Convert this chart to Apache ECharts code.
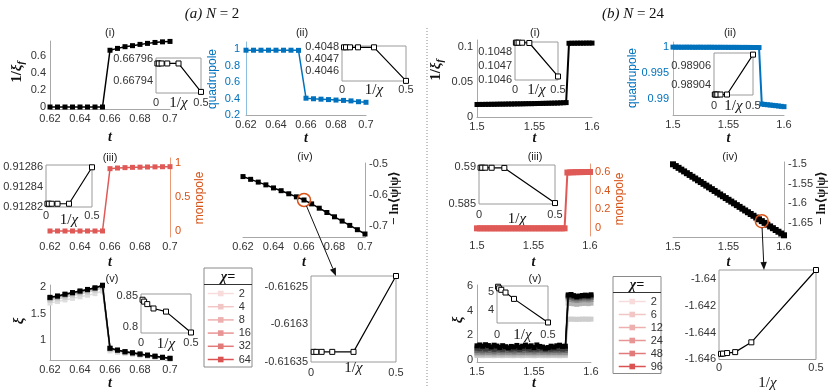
<!DOCTYPE html>
<html><head><meta charset="utf-8">
<script src="https://cdn.jsdelivr.net/npm/echarts@6/dist/echarts.min.js"></script>
<style>html,body{margin:0;padding:0;background:#fff}#c{width:831px;height:392px}</style>
</head><body><div id="c"></div><script>
// ---------------- DATA ----------------
const tA = [0.62,0.625,0.63,0.635,0.64,0.645,0.65,0.655,0.66,0.665,0.67,0.675,0.68,0.685,0.69,0.695,0.7];
const tB = [1.5,1.5025,1.505,1.5075,1.51,1.5125,1.515,1.5175,1.52,1.5225,1.525,1.5275,1.53,1.5325,1.535,1.5375,1.54,1.5425,1.545,1.5475,1.55,1.5525,1.555,1.5575,1.56,1.5625,1.565,1.5675,1.57,1.5725,1.575,1.5775,1.58,1.5825,1.585,1.5875,1.59,1.5925,1.595,1.5975,1.6];
const chiA = ['2','4','8','16','32','64'];
const chiB = ['2','6','12','24','48','96'];
const invChiA = [1/64,1/32,1/16,1/8,1/4,1/2];
const invChiB = [1/96,1/48,1/24,1/12,1/6,1/2];

// tick labels
const tickTA = [0.62,0.64,0.66,0.68,0.7];
const tickTB = [1.5,1.55,1.6];
const tickInvChi = [0,0.5];
const aYt1 = [0,0.2,0.4,0.6], aYt2 = [0.2,0.4,0.6,0.8,1], aYt3 = [0,0.5,1], aYt4 = [-0.7,-0.6,-0.5], aYt5 = [1,1.5,2];
const bYt1 = [0,0.05,0.1], bYt2 = [0.99,0.995,1], bYt3 = [0,0.2,0.4,0.6], bYt4 = [-1.65,-1.6,-1.55,-1.5], bYt5 = [0,2,4,6];
const aInYt1 = [0.66794,0.66796], aInYt2 = [0.4046,0.4047,0.4048], aInYt3 = [0.91282,0.91284,0.91286], aInYt4 = [-0.61635,-0.6163,-0.61625], aInYt5 = [0.8,0.85];
const bInYt1 = [0.1046,0.1047,0.1048], bInYt2 = [0.98904,0.98906], bInYt3 = [0.585,0.59], bInYt4 = [-1.646,-1.644,-1.642,-1.64], bInYt5 = [4,5];

// (a) N=2 main series (chi=64)
const aInvXiF = [0,0,0,0,0,0,0,0,0.668,0.69,0.71,0.722,0.737,0.749,0.76,0.767,0.772];
const aQuad   = [0.99,0.99,0.99,0.99,0.99,0.99,0.99,0.988,0.4048,0.398,0.393,0.388,0.382,0.378,0.372,0.362,0.355];
const aMono   = [0,0,0,0,0,0,0,0,0.9129,0.922,0.928,0.932,0.935,0.937,0.939,0.941,0.942];
const aLnPsi  = [-0.540,-0.549,-0.558,-0.567,-0.577,-0.586,-0.596,-0.606,-0.6163,-0.629,-0.643,-0.657,-0.671,-0.685,-0.699,-0.713,-0.727];
const aXi2  = [1.70,1.73,1.76,1.79,1.82,1.85,1.88,1.93,0.792,0.765,0.742,0.722,0.702,0.684,0.666,0.648,0.632];
const aXi4  = [1.75,1.78,1.81,1.845,1.875,1.905,1.94,1.99,0.825,0.792,0.764,0.744,0.722,0.703,0.684,0.664,0.646];
const aXi8  = [1.78,1.805,1.84,1.87,1.90,1.93,1.965,2.015,0.830,0.798,0.769,0.749,0.726,0.706,0.687,0.667,0.648];
const aXi16 = [1.795,1.82,1.855,1.885,1.915,1.945,1.98,2.03,0.837,0.803,0.773,0.753,0.729,0.709,0.689,0.669,0.650];
const aXi32 = [1.805,1.83,1.865,1.895,1.925,1.955,1.985,2.035,0.841,0.806,0.776,0.755,0.731,0.711,0.691,0.670,0.651];
const aXi64 = [1.81,1.835,1.87,1.90,1.93,1.96,1.99,2.04,0.844,0.808,0.778,0.757,0.733,0.712,0.692,0.671,0.652];
// (a) insets vs 1/chi
const aInvXiFIn = [0.667956,0.667956,0.667956,0.667956,0.667956,0.66793];
const aQuadIn   = [0.4048,0.4048,0.4048,0.4048,0.4048,0.40452];
const aMonoIn   = [0.912823,0.912823,0.912823,0.912823,0.912823,0.91286];
const aLnPsiIn  = [-0.616337,-0.616337,-0.616337,-0.616337,-0.616337,-0.616236];
const aXiIn     = [0.844,0.841,0.837,0.830,0.825,0.7915];

// (b) N=24 main series (chi=96)
const bInvXiF = [0.0178,0.0179,0.0179,0.0180,0.0180,0.0181,0.0181,0.0182,0.0183,0.0183,0.0184,0.0185,0.0185,0.0186,0.0187,0.0187,0.0188,0.0189,0.0190,0.0190,0.0191,0.0192,0.0193,0.0194,0.0195,0.0196,0.0197,0.0198,0.0199,0.0201,0.0203,0.0205,0.1049,0.1050,0.1050,0.1051,0.1051,0.1051,0.1052,0.1052,0.1052];
const bQuad = [0.99992,0.99991,0.99991,0.9999,0.9999,0.99991,0.9999,0.9999,0.99989,0.9999,0.9999,0.99989,0.99989,0.9999,0.99989,0.99989,0.99988,0.99989,0.99988,0.99988,0.99988,0.99987,0.99988,0.99987,0.99987,0.99986,0.99987,0.99986,0.99986,0.99985,0.99985,0.99984,0.98906,0.98899,0.98893,0.98887,0.98881,0.98875,0.98869,0.98862,0.98856];
const bMono = [0,0,0,0,0,0,0,0,0,0,0,0,0,0,0,0,0,0,0,0,0,0,0,0,0,0,0,0,0,0,0,0,0.5899,0.5914,0.5924,0.5933,0.594,0.5946,0.5951,0.5955,0.5958];
const bLnPsi = [-1.5,-1.5046,-1.5091,-1.5137,-1.5182,-1.5228,-1.5273,-1.5319,-1.5364,-1.541,-1.5455,-1.5501,-1.5546,-1.5592,-1.5637,-1.5683,-1.5728,-1.5774,-1.5819,-1.5865,-1.591,-1.5956,-1.6001,-1.6047,-1.6092,-1.6138,-1.6183,-1.6229,-1.6274,-1.632,-1.6365,-1.6411,-1.6457,-1.6502,-1.6547,-1.6593,-1.6638,-1.6684,-1.6729,-1.6775,-1.682];
const bXi2  = [0.36,0.37,0.35,0.37,0.36,0.36,0.35,0.37,0.36,0.35,0.37,0.36,0.36,0.35,0.37,0.36,0.35,0.37,0.36,0.36,0.35,0.36,0.37,0.35,0.36,0.35,0.37,0.36,0.36,0.35,0.36,0.36,3.3,3.31,3.3,3.29,3.3,3.31,3.31,3.3,3.31];
const bXi6  = [0.5,0.52,0.48,0.53,0.5,0.51,0.47,0.52,0.5,0.48,0.53,0.5,0.51,0.48,0.52,0.5,0.49,0.53,0.5,0.51,0.48,0.5,0.52,0.49,0.5,0.48,0.52,0.5,0.51,0.49,0.51,0.5,4.6,4.58,4.55,4.51,4.55,4.58,4.6,4.56,4.6];
const bXi12 = [0.63,0.65,0.6,0.66,0.62,0.64,0.59,0.65,0.62,0.6,0.66,0.62,0.64,0.6,0.65,0.62,0.61,0.66,0.62,0.64,0.6,0.63,0.65,0.61,0.63,0.6,0.65,0.62,0.64,0.61,0.64,0.62,4.95,4.9,4.85,4.81,4.85,4.88,4.9,4.86,4.9];
const bXi24 = [0.78,0.8,0.74,0.82,0.76,0.79,0.72,0.8,0.77,0.74,0.81,0.76,0.78,0.73,0.8,0.77,0.75,0.82,0.76,0.79,0.73,0.78,0.8,0.75,0.77,0.74,0.8,0.76,0.78,0.75,0.79,0.77,5.1,5.06,4.99,4.95,5.0,5.03,5.05,5.01,5.06];
const bXi48 = [0.96,0.91,1.0,0.89,0.93,0.98,0.86,0.95,0.9,0.87,0.97,0.92,0.88,0.95,0.9,0.86,0.93,0.98,0.9,0.87,0.94,0.88,0.95,0.91,0.86,0.92,0.88,0.95,0.9,0.93,0.88,0.92,5.18,5.21,5.12,5.06,5.1,5.13,5.16,5.12,5.18];
const bXi96 = [1.15,1.22,1.12,1.24,1.17,1.06,1.2,1.13,1.02,1.16,1.08,0.99,1.1,1.06,1.18,1.03,1.12,1.21,1.08,1.15,1.01,1.22,1.1,1.05,0.96,1.01,1.12,1.05,1.15,1.2,1.1,1.12,5.27,5.3,5.21,5.13,5.18,5.22,5.25,5.2,5.28];
// (b) insets vs 1/chi
const bInvXiFIn = [0.104863,0.104863,0.104863,0.104863,0.104861,0.104624];
const bQuadIn   = [0.98903,0.98903,0.98903,0.98903,0.98903,0.989072];
const bMonoIn   = [0.58993,0.58993,0.58993,0.58992,0.5899,0.5851];
const bLnPsiIn  = [-1.64559,-1.64557,-1.64553,-1.64546,-1.64473,-1.63934];
const bXiIn     = [5.27,5.18,5.1,4.95,4.6,3.3];

// ---------------- STYLE / BUILD ----------------
const SANS = '"Liberation Sans", Arial, Helvetica, sans-serif';
const SERIF = '"Liberation Serif", "DejaVu Serif", serif';
const C = {ink:'#333', axis:'#a8a8a8', blue:'#0072BD', orange:'#D95319', red:'#df5a57', black:'#000'};
const pink = ['#f8dcdc','#f3c6c6','#eeafaf','#e89595','#e27a7a','#db5252'];
const greyA = ['#dedede','#cfcfcf','#bdbdbd','#9c9c9c','#666666','#000000'];
const greyB = ['#cdcdcd','#b3b3b3','#8f8f8f','#6a6a6a','#3c3c3c','#000000'];

function fmt(v){ return String(+(+v).toPrecision(8)); }
const grid=[], xAxis=[], yAxis=[], series=[];
const MID = {align:'center', verticalAlign:'middle'};
const tStyle = Object.assign({fontFamily:SERIF, fontStyle:'italic', fontWeight:'bold', fontSize:14, color:'#111'}, MID);
const chiStyle = Object.assign({fontFamily:SERIF, fontSize:15, color:'#111', rich:{g:{fontFamily:SERIF, fontStyle:'italic', fontSize:15, color:'#111'}}}, MID);

function panel(o){
  const i = grid.length, inset = !!o.inset;
  grid.push({left:o.box[0], top:o.box[1], width:o.box[2], height:o.box[3], show:inset,
    borderColor:'#9a9a9a', borderWidth:1, backgroundColor: inset ? '#fff' : 'transparent'});
  xAxis.push({gridIndex:i, type:'value', min:o.x[0], max:o.x[1], position:'bottom',
    axisLine:{show:!inset && o.xLine!==false, onZero:false, lineStyle:{color:C.axis, width:1}},
    axisTick:{show:false}, splitLine:{show:false},
    axisLabel:{customValues:o.xt, formatter:fmt, fontSize:11, fontFamily:SANS, color:C.ink, margin:o.xm},
    name: inset ? '1/{g|χ}' : 't', nameLocation:'middle', nameGap:o.xg, nameMoveOverlap:false,
    nameTextStyle: inset ? chiStyle : tStyle});
  yAxis.push({gridIndex:i, type:'value', min:o.y[0], max:o.y[1], position:o.right?'right':'left',
    axisLine:{show:!inset && o.yLine!==false, onZero:false, lineStyle:{color:o.yc||C.axis, width:1}},
    axisTick:{show:false}, splitLine:{show:false},
    axisLabel:{customValues:o.yt, formatter:fmt, fontSize:11, fontFamily:SANS, color:o.ylc||C.ink, margin:o.ym!=null?o.ym:4}});
  return i;
}
function line(gi, xs, ys, o){
  series.push({type:'line', name:o.name||('s'+series.length), xAxisIndex:gi, yAxisIndex:gi,
    data: xs.map((x,k)=>[x, ys[k]]), symbol:'rect', symbolSize:o.ss||5, showSymbol:true, clip:false,
    lineStyle:{color:o.c, width:o.w||1.5}, itemStyle:{color:o.fill||o.c, borderColor:o.c, borderWidth:o.bw||0},
    emphasis:{disabled:true}, silent:true, animation:false, z:o.z||2, markPoint:o.mp});
}
function insetLine(gi, xs, ys){ line(gi, xs, ys, {c:'#000', fill:'#fff', bw:1, w:1.2, ss:5, z:6}); }
const circleMP = (x,y)=>({symbol:'circle', symbolSize:13, silent:true, animation:false,
  itemStyle:{color:'rgba(0,0,0,0)', borderColor:C.orange, borderWidth:1.5}, label:{show:false},
  data:[{coord:[x,y]}]});

// ---- (a) panels
const gAi  = panel({box:[50,41,120,68], x:[0.62,0.7], y:[-0.0235,0.777], xt:tickTA, yt:aYt1, xm:4, xg:28});
const gAii = panel({box:[246,42,120,73], x:[0.62,0.7], y:[0.2,1.09], xt:tickTA, yt:aYt2, xm:4, xg:23, yc:'#8fbde0', ylc:C.blue, ym:6});
const gAiii= panel({box:[50,158,120,79], x:[0.62,0.7], y:[-0.088,1.069], xt:tickTA, yt:aYt3, xm:4, xg:25, xLine:false, right:true, yc:'#ec9a78', ylc:C.orange, ym:5});
const gAiv = panel({box:[243,163,122,74], x:[0.62,0.7], y:[-0.7368,-0.4958], xt:tickTA, yt:aYt4, xm:4, xg:25, right:true, ym:4});
const gAv  = panel({box:[50,285,120,75], x:[0.62,0.7], y:[0.62,2.044], xt:tickTA, yt:aYt5, xm:4, xg:23});
const gAiI = panel({inset:true, box:[156,58,45,35], x:[0,0.5], y:[0.667929,0.667961], xt:tickInvChi, yt:aInYt1, xm:4, xg:10, ym:3});
const gAiiI= panel({inset:true, box:[342,46,64,35], x:[0,0.5], y:[0.404519,0.404811], xt:tickInvChi, yt:aInYt2, xm:3, xg:9, ym:3});
const gAiiiI=panel({inset:true, box:[46,165,46,42], x:[0,0.5], y:[0.9128197,0.9128623], xt:tickInvChi, yt:aInYt3, xm:3, xg:13, ym:3});
const gAivI= panel({inset:true, box:[311,276,85,86], x:[0,0.5], y:[-0.6163505,-0.616236], xt:tickInvChi, yt:aInYt4, xm:5, xg:6, ym:3});
const gAvI = panel({inset:true, box:[141,294,50,39], x:[0,0.5], y:[0.7907,0.8532], xt:tickInvChi, yt:aInYt5, xm:4, xg:11, ym:3});
// ---- (b) panels
const gBi  = panel({box:[477,40,115,77], x:[1.5,1.6], y:[0,0.1096], xt:tickTB, yt:bYt1, xm:4, xg:21});
const gBii = panel({box:[673,42,111,73], x:[1.5,1.6], y:[0.98697,1.0009], xt:tickTB, yt:bYt2, xm:4, xg:23, yc:'#8fbde0', ylc:C.blue});
const gBiii= panel({box:[477,164,113,72], x:[1.5,1.6], y:[-0.081,0.68], xt:tickTB, yt:bYt3, xm:4, xg:26, xLine:false, right:true, yc:'#ec9a78', ylc:C.orange, ym:5});
const gBiv = panel({box:[673,162,111,75], x:[1.5,1.6], y:[-1.6864,-1.4941], xt:tickTB, yt:bYt4, xm:4, xg:25, right:true, ym:4});
const gBv  = panel({box:[477,285,114,77], x:[1.5,1.6], y:[-0.16,6.07], xt:tickTB, yt:bYt5, xm:4, xg:21});
const gBiI = panel({inset:true, box:[515,42,43,38], x:[0,0.5], y:[0.104599,0.104868], xt:tickInvChi, yt:bInYt1, xm:4, xg:10, ym:3});
const gBiiI= panel({inset:true, box:[714,53,39,42], x:[0,0.5], y:[0.9890295,0.9890737], xt:tickInvChi, yt:bInYt2, xm:5, xg:11, ym:3});
const gBiiiI=panel({inset:true, box:[479,165,76,39], x:[0,0.5], y:[0.58497,0.5903], xt:tickInvChi, yt:bInYt3, xm:5, xg:15, ym:3});
const gBivI= panel({inset:true, box:[719,270,97,91], x:[0,0.5], y:[-1.64601,-1.63934], xt:tickInvChi, yt:bInYt4, xm:3, xg:24, ym:3});
const gBvI = panel({inset:true, box:[497,286,51,37], x:[0,0.5], y:[3.27,5.31], xt:tickInvChi, yt:bInYt5, xm:6, xg:12, ym:3});

// ---- series (a)
line(gAi, tA, aInvXiF, {c:C.black});
line(gAii, tA, aQuad, {c:C.blue});
line(gAiii, tA, aMono, {c:C.red});
line(gAiv, tA, aLnPsi, {c:C.black, mp:circleMP(tA[8], aLnPsi[8])});
[aXi2,aXi4,aXi8,aXi16,aXi32,aXi64].forEach((d,k)=>line(gAv, tA, d, {c:greyA[k], name:'a'+chiA[k], z:2+k*0.1}));
insetLine(gAiI, invChiA, aInvXiFIn);
insetLine(gAiiI, invChiA, aQuadIn);
insetLine(gAiiiI, invChiA, aMonoIn);
insetLine(gAivI, invChiA, aLnPsiIn);
insetLine(gAvI, invChiA, aXiIn);
// ---- series (b)
line(gBi, tB, bInvXiF, {c:C.black, w:2, ss:5});
line(gBii, tB, bQuad, {c:C.blue, w:2, ss:5});
line(gBiii, tB, bMono, {c:C.red, w:2, ss:6});
line(gBiv, tB, bLnPsi, {c:C.black, w:2, ss:6, mp:circleMP(tB[32], bLnPsi[32])});
[bXi2,bXi6,bXi12,bXi24,bXi48,bXi96].forEach((d,k)=>line(gBv, tB, d, {c:greyB[k], name:'b'+chiB[k], w:1.5, ss:5, z:2+k*0.1}));
insetLine(gBiI, invChiB, bInvXiFIn);
insetLine(gBiiI, invChiB, bQuadIn);
insetLine(gBiiiI, invChiB, bMonoIn);
insetLine(gBivI, invChiB, bLnPsiIn);
insetLine(gBvI, invChiB, bXiIn);

// ---- legends
function legend(prefix, chis, left, top, w, gap){
  return {orient:'vertical', left, top, itemWidth:w, itemHeight:7, itemGap:gap, padding:0, selectedMode:false,
    data: chis.map((c,k)=>({name:prefix+c, itemStyle:{color:pink[k], borderWidth:0}, lineStyle:{color:pink[k], width:1.5}})),
    formatter: n=>n.slice(1), textStyle:{fontFamily:SANS, fontSize:11, color:C.ink}};
}
const legends = [legend('a', chiA, 207, 288, 26, 2.2), legend('b', chiB, 618, 296, 27, 2)];

// ---- text / decorations
const txt = (x,y,text,extra,rot)=>({type:'text', x, y, rotation:rot||0, silent:true, z:10,
  style:Object.assign({text, fill:'#222', fontFamily:SANS, fontSize:11, align:'center', verticalAlign:'middle'}, extra||{})});
const R = Math.PI/2;
const titleRich = {i:{fontFamily:SERIF, fontStyle:'italic', fontSize:15, fill:'#111'}, r:{fontFamily:SERIF, fontSize:15, fill:'#111'}};
const invXiRich = {rich:{
  a:{fontFamily:SERIF, fontWeight:'bold', fontSize:15, fill:'#111'},
  g:{fontFamily:SERIF, fontWeight:'bold', fontStyle:'italic', fontSize:15, fill:'#111'},
  s:{fontFamily:SERIF, fontWeight:'bold', fontStyle:'italic', fontSize:10, fill:'#111', padding:[8,0,0,0]}}};
const quadT = {fontFamily:SANS, fontSize:12, fill:C.blue};
const monoT = {fontFamily:SANS, fontSize:12, fill:C.orange};
const lnT = {fontFamily:SERIF, fontWeight:'bold', fontSize:13, fill:'#111'};
const xiT = {fontFamily:SERIF, fontWeight:'bold', fontStyle:'italic', fontSize:15, fill:'#111'};
const baseGraphic = [
  txt(212,14,'{i|(a) N}{r| = 2}',{rich:titleRich}),
  txt(633,14,'{i|(b) N}{r| = 24}',{rich:titleRich}),
  {type:'line', silent:true, shape:{x1:427,y1:28,x2:427,y2:388}, style:{stroke:'#8a8a8a', lineWidth:1, lineDash:[1,2]}},
  txt(110,33,'(i)'), txt(302,33,'(ii)'), txt(110,158,'(iii)'), txt(305,157,'(iv)'), txt(112,279,'(v)'),
  txt(535,33,'(i)'), txt(730,33,'(ii)'), txt(535,157,'(iii)'), txt(730,157,'(iv)'), txt(535,279,'(v)'),
  // y-axis titles
  txt(17,72,'{a|1/}{g|ξ}{s|f}',invXiRich,R),
  txt(213,79,'quadrupole',quadT,R),
  txt(200,198,'monopole',monoT,R),
  txt(395,198,'− ln⟨ψ|ψ⟩',lnT,R),
  txt(19,321,'ξ',xiT,R),
  txt(436,70,'{a|1/}{g|ξ}{s|f}',invXiRich,R),
  txt(633,78,'quadrupole',quadT,R),
  txt(620,199,'monopole',monoT,R),
  txt(822,198,'− ln⟨ψ|ψ⟩',lnT,R),
  txt(458,320,'ξ',xiT,R),
  // legend frames
  {type:'rect', silent:true, shape:{x:204,y:268,width:48,height:99}, style:{fill:'none', stroke:'#8a8a8a', lineWidth:1}},
  {type:'line', silent:true, shape:{x1:204,y1:284.5,x2:252,y2:284.5}, style:{stroke:'#333', lineWidth:1}},
  txt(228,277,'χ=',{fontFamily:SERIF, fontStyle:'italic', fontWeight:'bold', fontSize:14, fill:'#111'}),
  {type:'rect', silent:true, shape:{x:613,y:276.5,width:48,height:97}, style:{fill:'none', stroke:'#8a8a8a', lineWidth:1}},
  {type:'line', silent:true, shape:{x1:613,y1:292.5,x2:661,y2:292.5}, style:{stroke:'#333', lineWidth:1}},
  txt(637,285,'χ=',{fontFamily:SERIF, fontStyle:'italic', fontWeight:'bold', fontSize:14, fill:'#111'})
];

const chart = echarts.init(document.getElementById('c'), null, {renderer:'canvas'});
chart.setOption({animation:false, backgroundColor:'#fff', grid, xAxis, yAxis, series, legend:legends, graphic:baseGraphic});

function arrow(p0, p1, r){
  const dx=p1[0]-p0[0], dy=p1[1]-p0[1], L=Math.hypot(dx,dy), ux=dx/L, uy=dy/L;
  const s=[p0[0]+ux*r, p0[1]+uy*r], h=8, w=3.2, b=[p1[0]-ux*h, p1[1]-uy*h];
  return [
    {type:'line', silent:true, z:12, shape:{x1:s[0],y1:s[1],x2:b[0],y2:b[1]}, style:{stroke:'#111', lineWidth:1}},
    {type:'polygon', silent:true, z:12, shape:{points:[[p1[0],p1[1]],[b[0]-uy*w,b[1]+ux*w],[b[0]+uy*w,b[1]-ux*w]]}, style:{fill:'#111'}}
  ];
}
const pa0 = chart.convertToPixel({gridIndex:gAiv}, [tA[8], aLnPsi[8]]);
const pa1 = chart.convertToPixel({gridIndex:gAivI}, [0.147, -0.616236]);
const pb0 = chart.convertToPixel({gridIndex:gBiv}, [tB[32], bLnPsi[32]]);
const pb1 = chart.convertToPixel({gridIndex:gBivI}, [0.232, -1.63934]);
chart.setOption({graphic: baseGraphic.concat(arrow(pa0, pa1, 6.5), arrow(pb0, pb1, 6.5))});
</script></body></html>
